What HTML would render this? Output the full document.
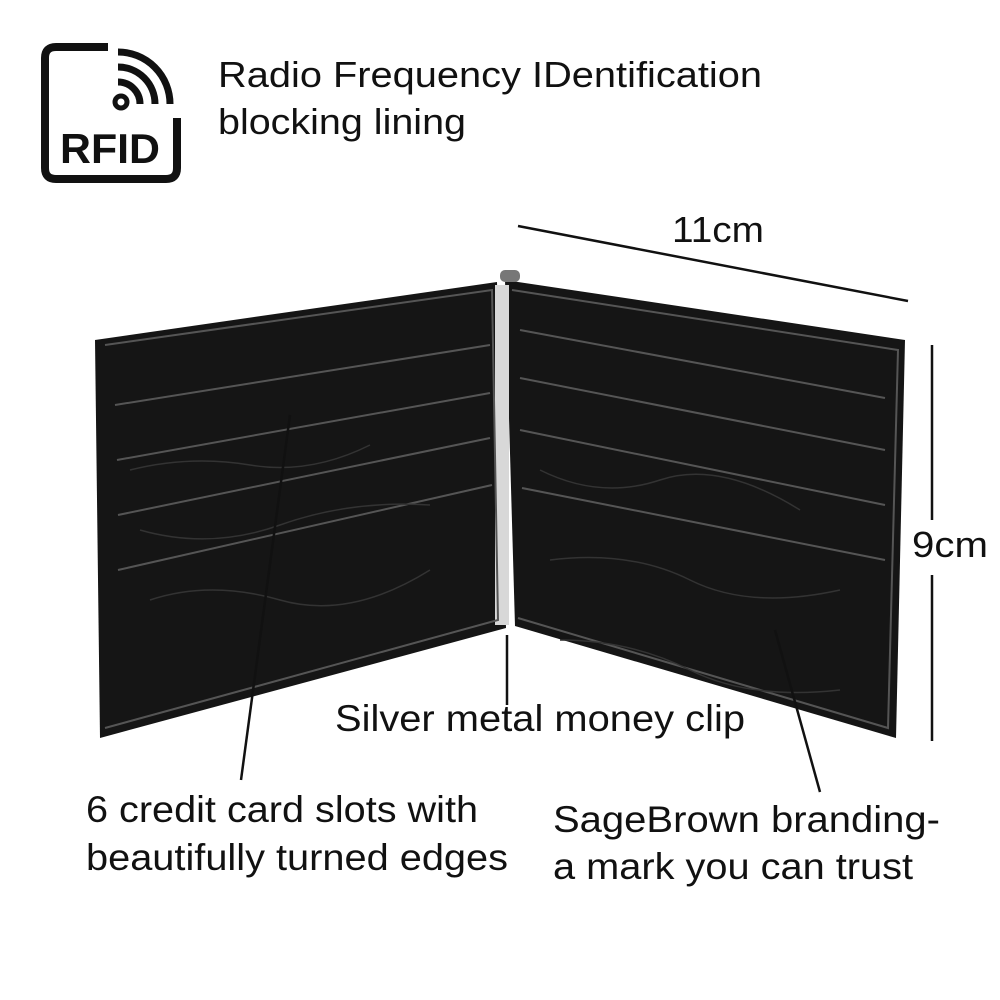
<!DOCTYPE html>
<html><head><meta charset="utf-8"><style>
html,body{margin:0;padding:0;background:#fff;}
svg{display:block;}
text{font-family:"Liberation Sans",sans-serif;fill:#111;}
</style></head><body>
<svg width="1000" height="1000" viewBox="0 0 1000 1000">
<!-- RFID icon -->
<path d="M108 47 H56 Q45 47 45 58 V168 Q45 179 56 179 H166 Q177 179 177 168 V118" fill="none" stroke="#111" stroke-width="8"/>
<circle cx="121" cy="102" r="6" fill="none" stroke="#111" stroke-width="5"/>
<path d="M118 82 A22 22 0 0 1 140 104" fill="none" stroke="#111" stroke-width="7"/>
<path d="M118 67 A37 37 0 0 1 155 104" fill="none" stroke="#111" stroke-width="7"/>
<path d="M118 52 A52 52 0 0 1 170 104" fill="none" stroke="#111" stroke-width="7"/>
<text x="60" y="163" font-size="42" font-weight="bold" textLength="100" lengthAdjust="spacingAndGlyphs">RFID</text>
<text x="218" y="87" font-size="36" textLength="544" lengthAdjust="spacingAndGlyphs">Radio Frequency IDentification</text>
<text x="218" y="134" font-size="36" textLength="248" lengthAdjust="spacingAndGlyphs">blocking lining</text>

<!-- wallet -->
<polygon points="95,340 497,282 506,628 100,738" fill="#151515"/>
<polygon points="505,280 905,340 896,738 515,626" fill="#151515"/>
<rect x="495" y="285" width="14" height="340" fill="#d8d8d8"/>
<rect x="500" y="270" width="20" height="12" rx="5" fill="#777"/>
<g stroke="#555" stroke-width="2" fill="none">
<polyline points="115,405 490,345"/>
<polyline points="117,460 490,393"/>
<polyline points="118,515 490,438"/>
<polyline points="118,570 492,485"/>
<polyline points="105,345 492,290 498,620 105,728 Z"/>
<polyline points="520,330 885,398"/>
<polyline points="520,378 885,450"/>
<polyline points="520,430 885,505"/>
<polyline points="522,488 885,560"/>
<polyline points="512,290 898,350 888,728 518,618 Z"/>
</g>
<g stroke="#333" stroke-width="1.5" fill="none">
<path d="M130 470 q60 -15 120 -5 t120 -20"/><path d="M140 530 q70 20 140 -5 t150 -20"/>
<path d="M150 600 q60 -20 130 0 t150 -30"/><path d="M540 470 q60 30 120 10 t140 30"/>
<path d="M550 560 q80 -10 140 20 t150 10"/><path d="M560 640 q70 0 130 30 t150 20"/>
</g>

<!-- dimension lines -->
<line x1="518" y1="226" x2="908" y2="301" stroke="#111" stroke-width="2.5"/>
<text x="672" y="242" font-size="36" textLength="92" lengthAdjust="spacingAndGlyphs">11cm</text>
<line x1="932" y1="345" x2="932" y2="520" stroke="#111" stroke-width="2.5"/>
<line x1="932" y1="575" x2="932" y2="741" stroke="#111" stroke-width="2.5"/>
<text x="912" y="557" font-size="36" textLength="76" lengthAdjust="spacingAndGlyphs">9cm</text>

<!-- callouts -->
<line x1="507" y1="635" x2="507" y2="705" stroke="#111" stroke-width="2.5"/>
<line x1="290" y1="415" x2="241" y2="780" stroke="#111" stroke-width="2.5"/>
<line x1="775" y1="630" x2="820" y2="792" stroke="#111" stroke-width="2.5"/>
<text x="335" y="731" font-size="37" textLength="410" lengthAdjust="spacingAndGlyphs">Silver metal money clip</text>
<text x="86" y="822" font-size="37" textLength="392" lengthAdjust="spacingAndGlyphs">6 credit card slots with</text>
<text x="86" y="870" font-size="37" textLength="422" lengthAdjust="spacingAndGlyphs">beautifully turned edges</text>
<text x="553" y="832" font-size="37" textLength="387" lengthAdjust="spacingAndGlyphs">SageBrown branding-</text>
<text x="553" y="879" font-size="37" textLength="360" lengthAdjust="spacingAndGlyphs">a mark you can trust</text>
</svg>
</body></html>
